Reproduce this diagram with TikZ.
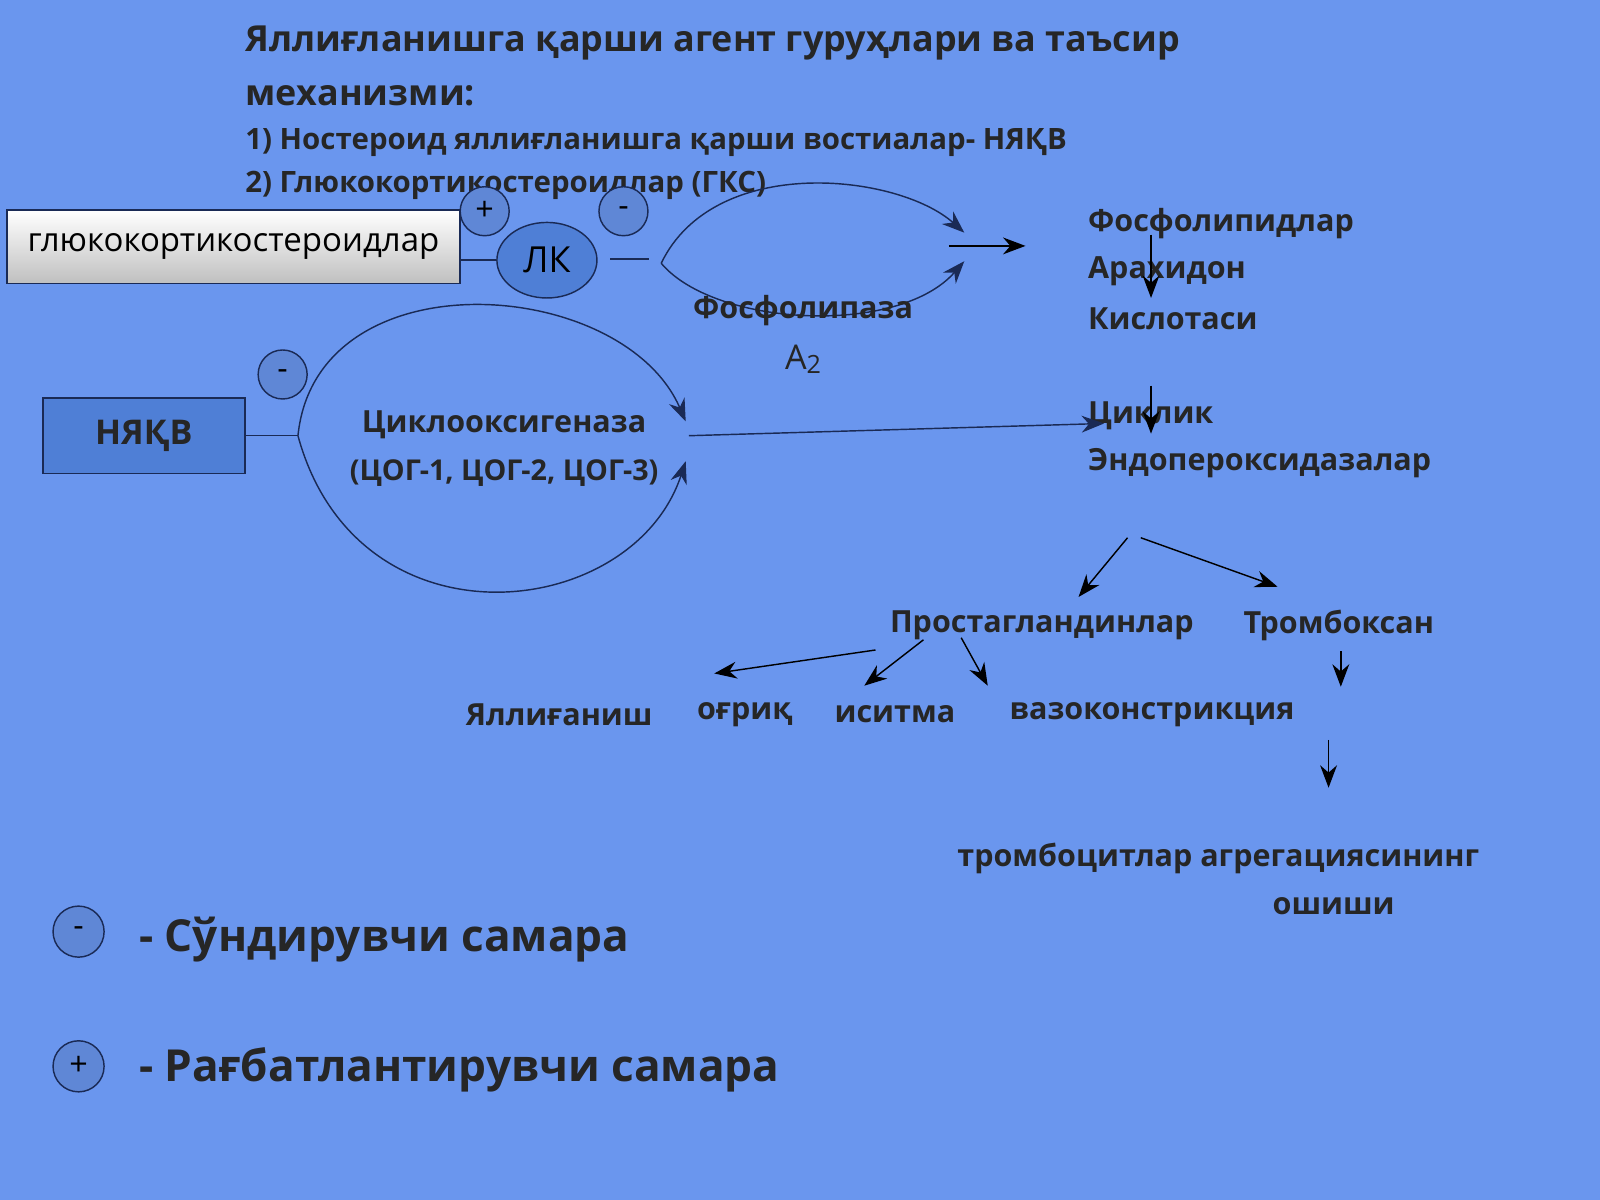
\documentclass[tikz,border=0pt]{standalone}
\usepackage{fontspec}
\setmainfont{Open Sans}
\usetikzlibrary{shapes.geometric,arrows.meta}
\definecolor{bgblue}{HTML}{6A96EE}
\definecolor{navy}{HTML}{1A2A55}
\definecolor{boxblue}{HTML}{4F7FD6}

\begin{document}
\begin{tikzpicture}[x=0.01cm,y=-0.01cm,
	lbl/.style={font=\bfseries\fontsize{8.5}{10}\selectfont, text=black!85},
	sign/.style={circle, draw=navy, fill=bgblue!90!black, minimum size=0.48cm, inner sep=0pt, font=\fontsize{9}{9}\selectfont},
	arr/.style={-{Stealth[length=2.2mm]}, thin, black},
	loop/.style={draw=navy, thin}]

	% ---- background

	\fill[bgblue] (0,0) rectangle (1568,1176);
	\useasboundingbox (0,0) rectangle (1568,1176);

	% ---- title

	\node[anchor=west, font=\bfseries\fontsize{10}{12}\selectfont, text=black!85] (t1) at (228,42) {Яллиғланишга қарши агент гуруҳлари ва таъсир};
	\node[anchor=west, font=\bfseries\fontsize{10}{12}\selectfont, text=black!85] (t2) at (228,94) {механизми:};
	\node[anchor=west, font=\bfseries\fontsize{8.2}{10}\selectfont, text=black!85] (t3) at (228,140) {1) Ностероид яллиғланишга қарши востиалар- НЯҚВ};
	\node[anchor=west, font=\bfseries\fontsize{8.2}{10}\selectfont, text=black!85] (t4) at (228,182) {2) Глюкокортикостероидлар (ГКС)};

	% ---- upper branch

	\node[draw=navy, top color=white, bottom color=black!25, minimum width=4.44cm, minimum height=0.72cm, font=\fontsize{9.2}{11}\selectfont, anchor=west] (gks) at (6,242) {глюкокортикостероидлар};
	\node[ellipse, draw=navy, fill=boxblue, minimum width=0.98cm, minimum height=0.74cm, inner sep=0pt, font=\fontsize{10}{12}\selectfont] (lk) at (536,255) {ЛК};
	\node[sign] (plus1) at (475,207) {+};
	\node[sign] (minus1) at (611,207) {-};
	\coordinate (c1) at (598,254);
	\coordinate (c2) at (636,254);
	\coordinate (c3) at (648,258);
	\coordinate (e1) at (945,228);
	\coordinate (e2) at (945,256);
	\coordinate (f1) at (930,241);
	\coordinate (f2) at (1005,241);
	\draw[navy, thin] (gks.east |- lk) -- (lk.west);
	\draw[navy, thin] (c1) -- (c2);
	\draw[loop, -{Stealth[length=2.2mm]}] (c3) .. controls (700,150) and (880,170) .. (e1);
	\draw[loop, -{Stealth[length=2.2mm]}] (c3) .. controls (700,320) and (880,330) .. (e2);
	\draw[arr] (f1) -- (f2);
	\node[lbl] (pla) at (787,304) {Фосфолипаза};
	\node[font=\fontsize{9.5}{11}\selectfont, text=black!85] (a2) at (787,352) {А\raisebox{-0.2ex}{\scriptsize 2}};

	% ---- right column

	\node[lbl, anchor=west] (fl) at (1054,219) {Фосфолипидлар};
	\node[lbl, anchor=west] (ar) at (1054,266) {Арахидон};
	\node[lbl, anchor=west] (ks) at (1054,312) {Кислотаси};
	\node[lbl, anchor=west] (cy) at (1054,407) {Циклик};
	\node[lbl, anchor=west] (en) at (1054,454) {Эндопероксидазалар};
	\coordinate (d1) at (1128,230);
	\coordinate (d2) at (1128,292);
	\coordinate (d3) at (1128,378);
	\coordinate (d4) at (1128,425);
	\draw[arr] (d1) -- (d2);
	\draw[arr] (d3) -- (d4);

	% ---- lower branch

	\node[draw=navy, fill=boxblue, minimum width=1.98cm, minimum height=0.74cm, font=\bfseries\fontsize{9.5}{11}\selectfont, text=black!85] (nsaid) at (141,427) {НЯҚВ};
	\node[sign] (minus2) at (277,367) {-};
	\coordinate (g1) at (292,427);
	\coordinate (h1) at (672,413);
	\coordinate (h2) at (672,452);
	\coordinate (h3) at (675,427);
	\coordinate (h4) at (1082,415);
	\draw[navy, thin] (nsaid) -- (g1);
	\draw[loop, -{Stealth[length=2.2mm]}] (g1) .. controls (310,250) and (610,270) .. (h1);
	\draw[loop, -{Stealth[length=2.2mm]}] (g1) .. controls (350,640) and (620,610) .. (h2);
	\draw[loop, -{Stealth[length=2.2mm]}] (h3) -- (h4);
	\node[lbl] (cox) at (494,416) {Циклооксигеназа};
	\node[font=\bfseries\fontsize{8}{10}\selectfont, text=black!85] (coxn) at (494,464) {(ЦОГ-1, ЦОГ-2, ЦОГ-3)};

	% ---- products

	\node[lbl] (pg) at (1021,613) {Простагландинлар};
	\node[lbl] (tx) at (1312,613) {Тромбоксан};
	\node[lbl] (r1) at (548,700) {Яллиғаниш};
	\node[lbl] (r2) at (730,700) {оғриқ};
	\node[lbl] (r3) at (877,700) {иситма};
	\node[lbl] (r4) at (1129,700) {вазоконстрикция};
	\node[lbl] (tr1) at (1194,841) {тромбоцитлар агрегациясининг};
	\node[lbl] (tr2) at (1307,888) {ошиши};
	\coordinate (k1) at (1105,527);
	\coordinate (k2) at (1057,585);
	\coordinate (k3) at (1118,527);
	\coordinate (k4) at (1252,575);
	\coordinate (m1) at (858,637);
	\coordinate (m2) at (700,660);
	\coordinate (m3) at (905,627);
	\coordinate (m4) at (847,672);
	\coordinate (m5) at (942,625);
	\coordinate (m6) at (968,672);
	\coordinate (n1) at (1314,638);
	\coordinate (n2) at (1314,673);
	\coordinate (n3) at (1302,725);
	\coordinate (n4) at (1302,772);
	\draw[arr] (k1) -- (k2);
	\draw[arr] (k3) -- (k4);
	\draw[arr] (m1) -- (m2);
	\draw[arr] (m3) -- (m4);
	\draw[arr] (m5) -- (m6);
	\draw[arr] (n1) -- (n2);
	\draw[arr] (n3) -- (n4);

	% ---- legend

	\node[sign, minimum size=0.5cm] (lgm) at (77,913) {-};
	\node[sign, minimum size=0.5cm] (lgp) at (77,1045) {+};
	\node[anchor=west, font=\bfseries\fontsize{12.3}{15}\selectfont, text=black!85] (lgmt) at (124,921) {- Сўндирувчи самара};
	\node[anchor=west, font=\bfseries\fontsize{12.3}{15}\selectfont, text=black!85] (lgpt) at (124,1048) {- Рағбатлантирувчи самара};

\end{tikzpicture}
\end{document}
